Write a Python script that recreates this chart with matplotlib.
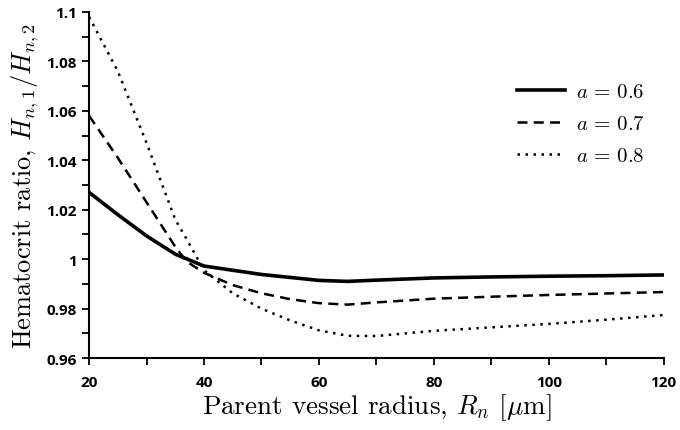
import numpy as np
import matplotlib
matplotlib.use("Agg")
import matplotlib.pyplot as plt
from matplotlib.ticker import MultipleLocator

plt.rcParams['mathtext.fontset'] = 'cm'

# values
radius = [20, 25, 30, 35, 37, 40, 45, 50, 55, 60, 65, 70, 80, 90, 100, 110, 120]
h_a06 = [1.027, 1.018, 1.0094, 1.002, 1.0001, 0.9972, 0.9955, 0.9938, 0.9926, 0.9914, 0.9910,
         0.9915, 0.9924, 0.9928, 0.9931, 0.9933, 0.9936]
h_a07 = [1.058, 1.041, 1.023, 1.005, 0.999, 0.9945, 0.9895, 0.9862, 0.9838, 0.9822, 0.9816,
         0.9825, 0.9840, 0.9848, 0.9855, 0.9861, 0.9867]
h_a08 = [1.098, 1.076, 1.047, 1.016, 1.008, 0.9955, 0.9862, 0.9800, 0.9752, 0.9712, 0.9690,
         0.9689, 0.9710, 0.9724, 0.9738, 0.9755, 0.9774]
labels = ['$a\\,=\\,0.6$', '$a\\,=\\,0.7$', '$a\\,=\\,0.8$']

y_ticks = [0.96, 0.98, 1.0, 1.02, 1.04, 1.06, 1.08, 1.1]
y_ticklabels = ['0.96', '0.98', '1', '1.02', '1.04', '1.06', '1.08', '1.1']
x_ticks = [20, 40, 60, 80, 100, 120]

fig = plt.figure(figsize=(6.8, 4.31), dpi=100)
ax = fig.add_axes([0.131, 0.167, 0.845, 0.803])

ax.plot(radius, h_a06, color='k', lw=2.6, ls='-', label=labels[0])
ax.plot(radius, h_a07, color='k', lw=1.8, ls=(0, (4, 2.5)), label=labels[1])
ax.plot(radius, h_a08, color='k', lw=1.8, ls=(0, (1, 2.2)), label=labels[2])

ax.set_xlim(20, 120)
ax.set_ylim(0.96, 1.1)
ax.set_xticks(x_ticks)
ax.set_xticklabels([str(t) for t in x_ticks])
ax.set_yticks(y_ticks)
ax.set_yticklabels(y_ticklabels)
ax.xaxis.set_minor_locator(MultipleLocator(10))
ax.yaxis.set_minor_locator(MultipleLocator(0.01))

for s in ['top', 'right']:
    ax.spines[s].set_visible(False)
for s in ['left', 'bottom']:
    ax.spines[s].set_linewidth(1.5)

ax.tick_params(which='both', direction='out', width=1.3, colors='k')
ax.tick_params(which='major', length=5)
ax.tick_params(which='minor', length=5)
ax.tick_params(axis='x', pad=7)
ax.tick_params(axis='y', pad=4)
for lab in ax.get_xticklabels() + ax.get_yticklabels():
    lab.set_fontfamily('Open Sans')
    lab.set_fontweight('bold')
    lab.set_fontsize(11)

ax.set_xlabel(r'Parent vessel radius, $R_n$ [$\mu$m]', fontsize=19.5, family='cmr10', labelpad=2)
ax.set_ylabel(r'Hematocrit ratio, $H_{n,1}/H_{n,2}$', fontsize=19, family='cmr10', labelpad=4)

leg = ax.legend(loc='upper right', bbox_to_anchor=(1.0, 0.855), frameon=False, fontsize=15,
                handlelength=2.3, handletextpad=0.55, labelspacing=0.58)

fig.savefig('out.png', dpi=100)
